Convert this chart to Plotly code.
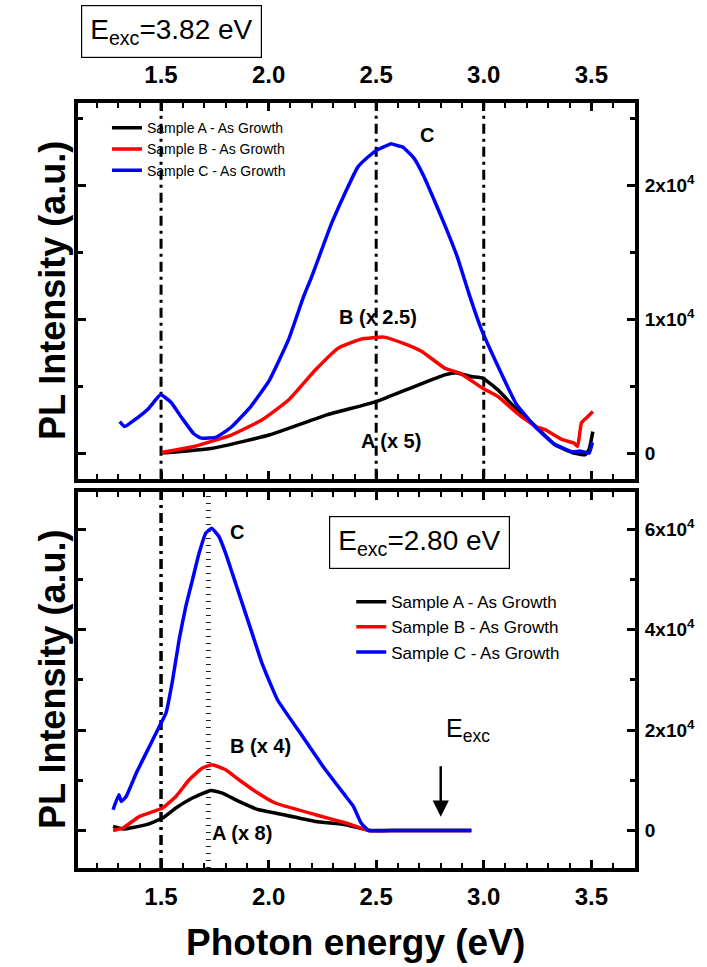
import plotly.graph_objects as go

# ---------------- data: top panel (E_exc = 3.82 eV) ----------------
top_A_x = [1.503, 1.741, 2.006, 2.271, 2.500, 2.677, 2.819, 2.871, 2.942, 2.995, 3.066, 3.154, 3.242, 3.331, 3.419, 3.472, 3.490, 3.507]
top_A_y = [0, 370, 1370, 2860, 3850, 4970, 5840, 6010, 5720, 5600, 4720, 3230, 1990, 620, 0, -120, 300, 1610]

top_B_x = [1.503, 1.653, 1.829, 1.970, 2.094, 2.218, 2.324, 2.430, 2.536, 2.624, 2.712, 2.819, 2.889, 2.995, 3.066, 3.154, 3.242, 3.285, 3.313, 3.366, 3.419, 3.436, 3.454, 3.477, 3.507]
top_B_y = [50, 490, 1370, 2490, 3980, 6220, 7840, 8510, 8660, 8210, 7590, 6340, 5970, 4850, 4230, 2990, 1990, 1750, 1490, 1000, 750, 500, 2260, 2630, 3110]

top_C_x = [1.308, 1.331, 1.369, 1.440, 1.498, 1.546, 1.598, 1.652, 1.687, 1.758, 1.827, 1.916, 2.004, 2.092, 2.162, 2.200, 2.246, 2.292, 2.354, 2.415, 2.462, 2.508, 2.540, 2.569, 2.600, 2.623, 2.677, 2.723, 2.770, 2.816, 2.877, 2.931, 2.990, 3.060, 3.150, 3.240, 3.326, 3.410, 3.450, 3.490, 3.505]
top_C_y = [2360, 1990, 2390, 3300, 4350, 3800, 2600, 1450, 1120, 1200, 1950, 3450, 5450, 8450, 11660, 13160, 15150, 17130, 19370, 21370, 22110, 22660, 22900, 23100, 22950, 22860, 21990, 20620, 18880, 17130, 14650, 11910, 9200, 6700, 3700, 1950, 700, 100, 150, 0, 800]

# ---------------- data: bottom panel (E_exc = 2.80 eV) ----------------
bot_A_x = [1.277, 1.323, 1.431, 1.507, 1.569, 1.646, 1.731, 1.785, 1.862, 1.954, 2.031, 2.218, 2.359, 2.465, 2.600, 2.800, 2.942]
bot_A_y = [800, 280, 1140, 2470, 4460, 6450, 7970, 7450, 5780, 4120, 3470, 1790, 1140, 0, 0, 0, 0]

bot_B_x = [1.277, 1.323, 1.400, 1.507, 1.569, 1.631, 1.692, 1.738, 1.800, 1.862, 1.939, 2.031, 2.218, 2.359, 2.465, 2.600, 2.800, 2.942]
bot_B_y = [0, 480, 2790, 4460, 6770, 10100, 12430, 13090, 12090, 10100, 7770, 5460, 3130, 1470, 0, 0, 0, 0]

bot_C_x = [1.277, 1.304, 1.315, 1.338, 1.385, 1.446, 1.492, 1.523, 1.554, 1.584, 1.615, 1.646, 1.677, 1.708, 1.735, 1.769, 1.800, 1.831, 1.877, 1.923, 1.969, 2.041, 2.147, 2.253, 2.359, 2.394, 2.430, 2.465, 2.600, 2.800, 2.942]
bot_C_y = [4120, 7110, 5780, 6770, 11430, 16730, 20720, 23390, 30020, 37990, 44620, 49940, 55260, 59240, 60240, 58570, 55260, 51270, 45300, 39320, 33350, 26040, 19400, 12750, 6770, 4780, 1470, 0, 0, 0, 0]

series_names = ["Sample A - As Growth", "Sample B - As Growth", "Sample C - As Growth"]
series_colors = ["#000000", "#ff0000", "#0000ff"]

x_range = [1.114, 3.703]
x_ticks = [1.5, 2.0, 2.5, 3.0, 3.5]
x_ticktext = ["1.5", "2.0", "2.5", "3.0", "3.5"]

top_y_range = [-1920, 26140]
top_y_ticks = [0, 10000, 20000]
top_y_ticktext = ["0", "1x10<sup>4</sup>", "2x10<sup>4</sup>"]

bot_y_range = [-7490, 67530]
bot_y_ticks = [0, 20000, 40000, 60000]
bot_y_ticktext = ["0", "2x10<sup>4</sup>", "4x10<sup>4</sup>", "6x10<sup>4</sup>"]

top_ref_lines = [1.5, 2.5, 3.0]
bot_ref_dashdot = [1.5]
bot_ref_dotted = [1.72]

# ---------------- figure ----------------
FONT = "Arial, Liberation Sans, sans-serif"
fig = go.Figure()

for xs, ys, name, col in zip([top_A_x, top_B_x, top_C_x], [top_A_y, top_B_y, top_C_y], series_names, series_colors):
    fig.add_trace(go.Scatter(x=xs, y=ys, mode="lines", name=name, xaxis="x", yaxis="y",
                             line=dict(color=col, width=3.5, shape="spline", smoothing=0.4),
                             legend="legend"))
for xs, ys, name, col in zip([bot_A_x, bot_B_x, bot_C_x], [bot_A_y, bot_B_y, bot_C_y], series_names, series_colors):
    fig.add_trace(go.Scatter(x=xs, y=ys, mode="lines", name=name, xaxis="x2", yaxis="y2",
                             line=dict(color=col, width=3.5, shape="spline", smoothing=0.4),
                             legend="legend2"))

shapes = []
for xv in top_ref_lines:
    shapes.append(dict(type="line", xref="x", yref="y domain", x0=xv, x1=xv, y0=0, y1=1,
                       line=dict(color="black", width=3, dash="10px,5px,3px,5px"), layer="below"))
for xv in bot_ref_dashdot:
    shapes.append(dict(type="line", xref="x2", yref="y2 domain", x0=xv, x1=xv, y0=0, y1=1,
                       line=dict(color="black", width=3.5, dash="10px,5px,3px,5px"), layer="below"))
for xv in bot_ref_dotted:
    shapes.append(dict(type="line", xref="x2", yref="y2 domain", x0=xv, x1=xv, y0=0, y1=0.99,
                       line=dict(color="#222222", width=5, dash="1px,6px"), layer="below"))

ann = []
lab_font = dict(family=FONT, size=20, color="black")
ann.append(dict(x=2.735, y=23750, xref="x", yref="y", text="<b>C</b>", showarrow=False, font=lab_font))
ann.append(dict(x=2.509, y=10190, xref="x", yref="y", text="<b>B (x 2.5)</b>", showarrow=False, font=lab_font))
ann.append(dict(x=2.571, y=870, xref="x", yref="y", text="<b>A (x 5)</b>", showarrow=False, font=lab_font))
ann.append(dict(x=1.854, y=59560, xref="x2", yref="y2", text="<b>C</b>", showarrow=False, font=lab_font))
ann.append(dict(x=1.962, y=16870, xref="x2", yref="y2", text="<b>B (x 4)</b>", showarrow=False, font=lab_font))
ann.append(dict(x=1.874, y=-520, xref="x2", yref="y2", text="<b>A (x 8)</b>", showarrow=False, font=lab_font))

# excitation boxes
ann.append(dict(x=0.1684, y=1.0934, xref="paper", yref="paper", xanchor="center", yanchor="middle",
                text="E<sub>exc</sub>=3.82 eV",
                showarrow=False, font=dict(family=FONT, size=28, color="black"),
                bordercolor="black", borderwidth=1.2, borderpad=8, bgcolor="white"))
ann.append(dict(x=0.6123, y=0.425, xref="paper", yref="paper", xanchor="center", yanchor="middle",
                text="E<sub>exc</sub>=2.80 eV",
                showarrow=False, font=dict(family=FONT, size=28, color="black"),
                bordercolor="black", borderwidth=1.2, borderpad=8, bgcolor="white"))
# arrow marking E_exc
ann.append(dict(x=2.80, y=2730, xref="x2", yref="y2", ax=2.80, ay=13090, axref="x2", ayref="y2",
                text="", showarrow=True, arrowhead=2, arrowsize=1.3, arrowwidth=2.5, arrowcolor="black"))
ann.append(dict(x=2.928, y=20000, xref="x2", yref="y2", xanchor="center", yanchor="middle",
                text="E<sub>exc</sub>", showarrow=False,
                font=dict(family=FONT, size=25, color="black")))

# axis titles
title_font = dict(family=FONT, size=36, color="black")
ann.append(dict(x=-0.0446, y=0.7543, xref="paper", yref="paper", xanchor="center", yanchor="middle",
                text="<b>PL Intensity (a.u.)</b>", textangle=-90, showarrow=False, font=title_font))
ann.append(dict(x=-0.0446, y=0.246, xref="paper", yref="paper", xanchor="center", yanchor="middle",
                text="<b>PL Intensity (a.u.)</b>", textangle=-90, showarrow=False, font=title_font))
ann.append(dict(x=0.499, y=-0.0976, xref="paper", yref="paper", xanchor="center", yanchor="middle",
                text="<b>Photon energy (eV)</b>",
                showarrow=False, font=dict(family=FONT, size=37, color="black")))

tick_font = dict(family=FONT, size=24, color="black", weight="bold")
ytick_font = dict(family=FONT, size=19, color="black", weight="bold")

def xaxis_common(anchor, side, standoff):
    return dict(range=x_range, anchor=anchor, domain=[0, 1], side=side, showline=True, linewidth=4,
                linecolor="black", mirror="ticks", ticks="inside", ticklen=8, tickwidth=3,
                tickcolor="black", tickvals=x_ticks, ticktext=x_ticktext, showgrid=False,
                zeroline=False, tickfont=tick_font, ticklabelstandoff=standoff,
                minor=dict(dtick=0.1, tick0=1.5, ticks="inside", ticklen=5, tickwidth=2, tickcolor="black"))

def yaxis_common(anchor, dom, rng, tv, tt, mdt):
    return dict(range=rng, anchor=anchor, domain=dom, side="right", showline=True, linewidth=4,
                linecolor="black", mirror="ticks", ticks="inside", ticklen=8, tickwidth=3,
                tickcolor="black", tickvals=tv, ticktext=tt,
                showgrid=False, zeroline=False, tickfont=ytick_font, ticklabelstandoff=2,
                minor=dict(dtick=mdt, tick0=0, ticks="inside", ticklen=5, tickwidth=3, tickcolor="black"))

fig.update_layout(
    width=707, height=967,
    margin=dict(l=78, r=68, t=103, b=98.7),
    paper_bgcolor="white", plot_bgcolor="white",
    font=dict(family=FONT, color="black"),
    xaxis=xaxis_common("y", "top", 6),
    xaxis2=xaxis_common("y2", "bottom", 4),
    yaxis=yaxis_common("x", [0.5087, 1.0], top_y_range, top_y_ticks, top_y_ticktext, 5000),
    yaxis2=yaxis_common("x2", [0.0, 0.4921], bot_y_range, bot_y_ticks, bot_y_ticktext, 10000),
    shapes=shapes,
    annotations=ann,
    legend=dict(x=0.052, y=0.988, xanchor="left", yanchor="top", bgcolor="rgba(0,0,0,0)",
                font=dict(family=FONT, size=14, color="black"), tracegroupgap=0),
    legend2=dict(x=0.4906, y=0.371, xanchor="left", yanchor="top", bgcolor="rgba(0,0,0,0)",
                 font=dict(family=FONT, size=17, color="black"), tracegroupgap=0),
    showlegend=True,
)

fig.write_html("out.html", config={"displayModeBar": False},
               post_script="document.body.style.margin='0px';document.body.style.overflow='hidden';")
